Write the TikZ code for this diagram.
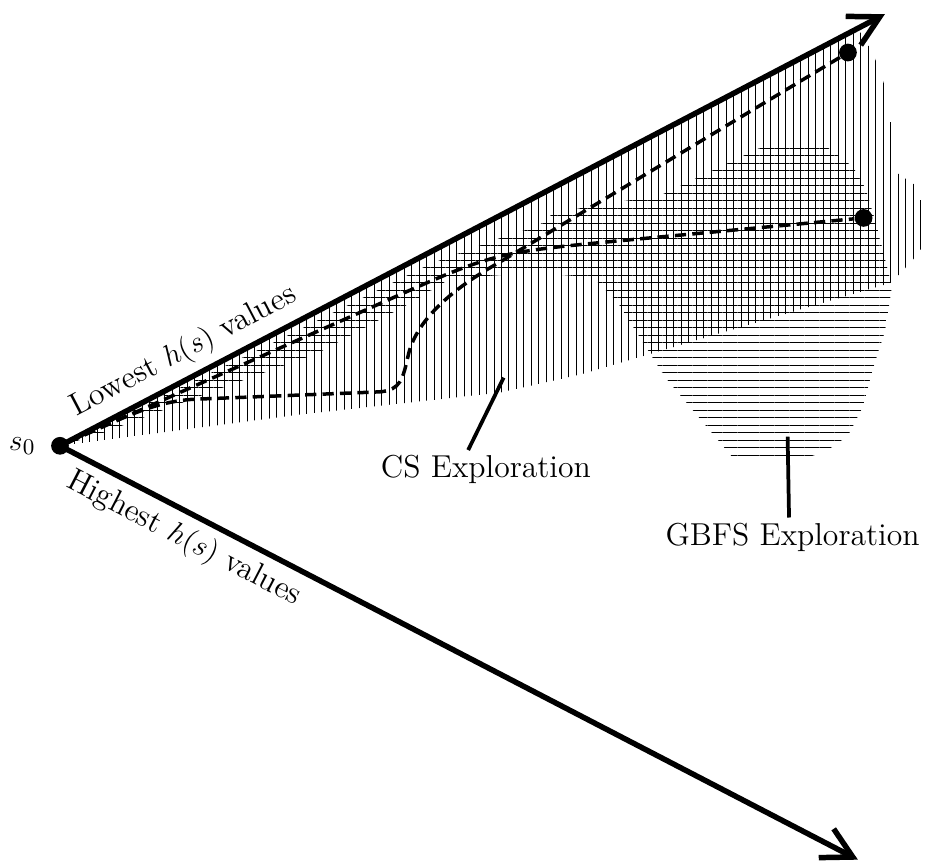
\documentclass[tikz,border=0pt]{standalone}
\usepackage{amsmath,amssymb}
\usepackage{tikz}
\usetikzlibrary{arrows.meta,positioning,patterns.meta}

\begin{document}
\begin{tikzpicture}[font=\fontsize{12.7}{15}\selectfont,
  dot/.style={circle,fill=black,inner sep=0pt,minimum size=2.5mm},
  axis/.style={line width=2.2pt,-{Straight Barb[length=12pt,width=13pt]}},
  walk/.style={line width=1.4pt,dash pattern=on 4.5pt off 2.5pt},
  pointer/.style={line width=1.5pt},
  cs/.style={pattern={Lines[angle=90,distance=3pt,line width=.4pt]}},
  gbfs/.style={pattern={Lines[angle=0,distance=3pt,line width=.4pt]}}]
  \useasboundingbox (-0.845,-5.93) rectangle (12.27,6.28);
  % explored regions
  \fill[cs] (0,0) -- (11.24,5.885) -- (11.45,5.54) -- (11.69,4.87) -- (11.73,3.89) -- (11.87,3.79)
    -- (12.08,3.65) -- (12.21,3.11) -- (12.20,2.86) -- (12.04,2.65) -- (11.72,2.30) -- (7.32,1.0)
    -- (6.20,0.75) -- (3.38,0.44) -- (0.99,0.13) -- cycle;
  \fill[gbfs] (0,0) -- (3.0,1.45) -- (5.21,2.56) -- (6.37,2.99) -- (6.72,3.08) -- (6.94,3.27)
    -- (7.65,3.41) -- (8.42,3.51) -- (9.97,4.25) -- (10.75,4.25) -- (11.17,3.93) -- (11.35,3.62)
    -- (11.51,3.08) -- (11.72,2.24) -- (11.62,1.61) -- (11.45,1.08) -- (11.31,0.55) -- (11.10,0.14)
    -- (10.80,-0.07) -- (10.52,-0.17) -- (9.48,-0.17) -- (8.52,0.97) -- (7.85,2.03) -- (7.51,2.37)
    -- (6.66,2.44) -- (5.49,2.35) -- (4.97,2.03) -- (3.62,1.30) -- (2.21,0.79) -- (0.52,0.15) -- cycle;

  \node[dot] (s0) at (0,0) {};
  \node[left=2.5pt of s0] (s0lab) {$s_0$};
  \node[dot] (goal) at (11.10,5.54) {};
  \node[dot] (end) at (11.32,3.21) {};
  \coordinate (hi) at (11.62,6.08);
  \coordinate (lo) at (11.24,-5.83);

  % search paths
  \draw[walk] (s0) .. controls (1.0,0.45) and (1.4,0.65) .. (2.0,0.66) -- (4.5,0.76)
    .. controls (4.8,0.78) and (4.83,0.95) .. (4.9,1.25)
    .. controls (5.0,1.75) and (5.5,2.2) .. (6.2,2.59) -- (goal);
  \draw[walk] (s0) -- (4.5,2.0) .. controls (6.11,2.72) .. (7.9,2.89) -- (end);

  \draw[axis] (s0.center) -- node[pos=.165,above,sloped] (lowlab) {Lowest $h(s)$ values} (hi);
  \draw[axis] (s0.center) -- node[pos=.17,below,sloped] (highlab) {Highest $h(s)$ values} (lo);

  \node[anchor=north,inner sep=2pt] (cslab) at (6.0,-0.06) {CS Exploration};
  \coordinate (cspt) at (6.25,0.96);
  \draw[pointer] (cspt) -- ([xshift=-2.5mm]cslab.north);
  \node[anchor=north,inner sep=2pt] (gbfslab) at (10.32,-1.01) {GBFS Exploration};
  \coordinate (gbfspt) at (10.25,0.13);
  \draw[pointer] (gbfspt) -- ([xshift=-.5mm]gbfslab.north);
\end{tikzpicture}
\end{document}
